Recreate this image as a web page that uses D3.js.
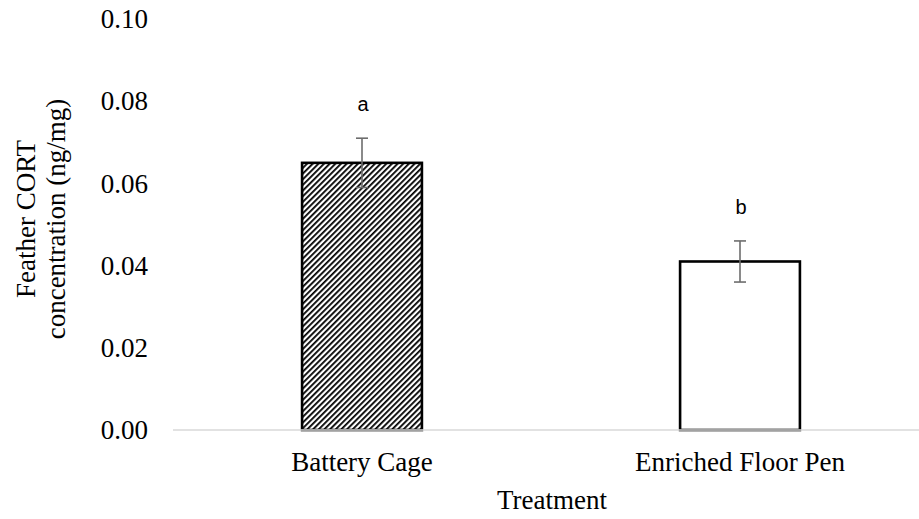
<!DOCTYPE html>
<html>
<head>
<meta charset="utf-8">
<script src="https://cdn.jsdelivr.net/npm/d3@7/dist/d3.min.js"></script>
<style>
  html, body { margin: 0; padding: 0; background: #fff; }
  svg { display: block; }
</style>
</head>
<body>
<svg id="chart"></svg>
<script>
const WIDTH = 919;
const HEIGHT = 519;

const treatments = ['Battery Cage', 'Enriched Floor Pen'];
const means = [0.065, 0.041];
const errors = [0.006, 0.005];
const letters = ['a', 'b'];
const yTicks = [0, 0.02, 0.04, 0.06, 0.08, 0.10];

const svg = d3.select('#chart')
  .attr('width', WIDTH)
  .attr('height', HEIGHT);

// diagonal hatch for the first bar
const pattern = svg.append('defs').append('pattern')
  .attr('id', 'hatch')
  .attr('patternUnits', 'userSpaceOnUse')
  .attr('width', 4)
  .attr('height', 4)
  .attr('patternTransform', 'rotate(45)');
pattern.append('rect').attr('width', 4).attr('height', 4).attr('fill', '#fff');
pattern.append('rect').attr('width', 1.8).attr('height', 4).attr('fill', '#000');

const xScale = d3.scaleBand()
  .domain(treatments)
  .range([173, 929])
  .paddingInner(0.683)
  .paddingOuter(0.3415);

const yScale = d3.scaleLinear()
  .domain([0, 0.10])
  .range([430, 19]);

// tick labels (no tick marks, no axis line on the left)
const leftAxis = d3.axisLeft(yScale)
  .tickValues(yTicks)
  .tickFormat(d3.format('.2f'))
  .tickSize(0)
  .tickPadding(0);
const gy = svg.append('g')
  .attr('transform', 'translate(148,0)')
  .call(leftAxis);
gy.select('.domain').remove();
gy.selectAll('text')
  .attr('font-family', '"Liberation Serif", "Times New Roman", serif')
  .attr('font-size', 27)
  .attr('fill', '#000');

// bars
svg.selectAll('rect.bar')
  .data(treatments)
  .enter()
  .append('rect')
  .attr('class', 'bar')
  .attr('x', d => xScale(d))
  .attr('width', xScale.bandwidth())
  .attr('y', (d, i) => yScale(means[i]))
  .attr('height', (d, i) => yScale(0) - yScale(means[i]))
  .attr('fill', (d, i) => (i === 0 ? 'url(#hatch)' : '#fff'))
  .attr('stroke', '#000')
  .attr('stroke-width', 2.6);

// baseline
svg.append('line')
  .attr('x1', 173)
  .attr('x2', WIDTH)
  .attr('y1', yScale(0))
  .attr('y2', yScale(0))
  .attr('stroke', '#d9d9d9')
  .attr('stroke-width', 1.5);

// error bars
const err = svg.selectAll('g.err')
  .data(treatments)
  .enter()
  .append('g')
  .attr('class', 'err')
  .attr('stroke', '#6d6d6d')
  .attr('stroke-width', 1.6);
const cx = d => xScale(d) + xScale.bandwidth() / 2;
err.append('line')
  .attr('x1', cx).attr('x2', cx)
  .attr('y1', (d, i) => yScale(means[i] + errors[i]))
  .attr('y2', (d, i) => yScale(means[i] - errors[i]));
err.append('line')
  .attr('x1', d => cx(d) - 6).attr('x2', d => cx(d) + 6)
  .attr('y1', (d, i) => yScale(means[i] + errors[i]))
  .attr('y2', (d, i) => yScale(means[i] + errors[i]));
err.append('line')
  .attr('x1', d => cx(d) - 6).attr('x2', d => cx(d) + 6)
  .attr('y1', (d, i) => yScale(means[i] - errors[i]))
  .attr('y2', (d, i) => yScale(means[i] - errors[i]));

// significance letters
svg.selectAll('text.letter')
  .data(treatments)
  .enter()
  .append('text')
  .attr('class', 'letter')
  .attr('x', d => cx(d) + 1)
  .attr('y', (d, i) => yScale(means[i] + errors[i]) - 27)
  .attr('text-anchor', 'middle')
  .attr('font-family', '"Liberation Sans", Arial, sans-serif')
  .attr('font-size', 20)
  .attr('fill', '#000')
  .text((d, i) => letters[i]);

// category labels
svg.selectAll('text.cat')
  .data(treatments)
  .enter()
  .append('text')
  .attr('class', 'cat')
  .attr('x', cx)
  .attr('y', 471)
  .attr('text-anchor', 'middle')
  .attr('font-family', '"Liberation Serif", "Times New Roman", serif')
  .attr('font-size', 27)
  .attr('fill', '#000')
  .text(d => d);

// axis titles
svg.append('text')
  .attr('x', 552)
  .attr('y', 509)
  .attr('text-anchor', 'middle')
  .attr('font-family', '"Liberation Serif", "Times New Roman", serif')
  .attr('font-size', 27)
  .attr('fill', '#000')
  .text('Treatment');

const yTitle = svg.append('text')
  .attr('transform', 'translate(0,219) rotate(-90)')
  .attr('text-anchor', 'middle')
  .attr('font-family', '"Liberation Serif", "Times New Roman", serif')
  .attr('font-size', 27)
  .attr('fill', '#000');
yTitle.append('tspan').attr('x', 0).attr('y', 35).text('Feather CORT');
yTitle.append('tspan').attr('x', 0).attr('y', 65).text('concentration (ng/mg)');
</script>
</body>
</html>
